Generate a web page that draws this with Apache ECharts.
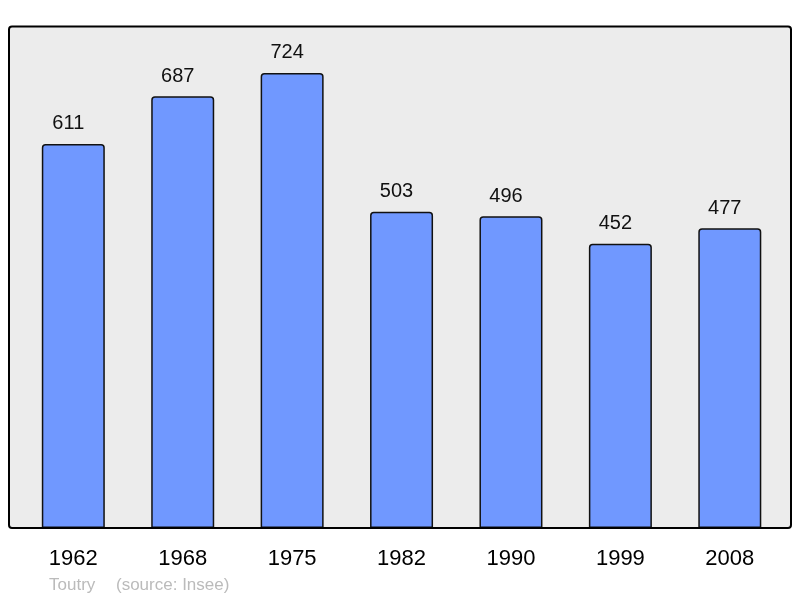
<!DOCTYPE html>
<html>
<head>
<meta charset="utf-8">
<script src="https://cdn.jsdelivr.net/npm/echarts@6/dist/echarts.min.js"></script>
<style>
html,body{margin:0;padding:0;background:#fff;}
#chart{width:800px;height:598px;}
</style>
</head>
<body>
<div id="chart"></div>
<script>
const years = ['1962', '1968', '1975', '1982', '1990', '1999', '2008'];
const population = [611, 687, 724, 503, 496, 452, 477];
const townName = 'Toutry';
const sourceText = '(source: Insee)';

const chart = echarts.init(document.getElementById('chart'), null, {renderer: 'canvas'});
const font = '"Liberation Sans", Arial, sans-serif';
chart.setOption({
  animation: false,
  backgroundColor: '#ffffff',
  grid: {left: 18.6, right: 15.5, top: 27, bottom: 70, containLabel: false},
  xAxis: {
    type: 'category',
    data: years,
    axisLine: {show: false},
    axisTick: {show: false},
    axisLabel: {fontSize: 22, color: '#000', fontFamily: font, margin: 20}
  },
  yAxis: {
    type: 'value', min: 0, max: 797,
    show: false,
    splitLine: {show: false}
  },
  graphic: [
    {type: 'rect', z: -10, shape: {x: 9, y: 26.5, width: 782, height: 501.5, r: 3},
     style: {fill: '#ececec', stroke: null}},
    {type: 'rect', z: 100, shape: {x: 9, y: 26.5, width: 782, height: 501.5, r: 3},
     style: {fill: null, stroke: '#000', lineWidth: 2}},
    {type: 'text', left: 49, top: 577, style: {text: townName, fill: '#bbbbbb', font: '17px ' + font}},
    {type: 'text', left: 116, top: 577, style: {text: sourceText, fill: '#bbbbbb', font: '17px ' + font}}
  ],
  series: [{
    type: 'bar',
    data: population,
    barWidth: 63,
    itemStyle: {color: '#7098ff', borderColor: '#111', borderWidth: 1.5, borderRadius: [3, 3, 0, 0]},
    label: {show: true, position: 'top', distance: 10, offset: [-5, 0], fontSize: 20, color: '#111', fontFamily: font}
  }]
});
</script>
</body>
</html>
